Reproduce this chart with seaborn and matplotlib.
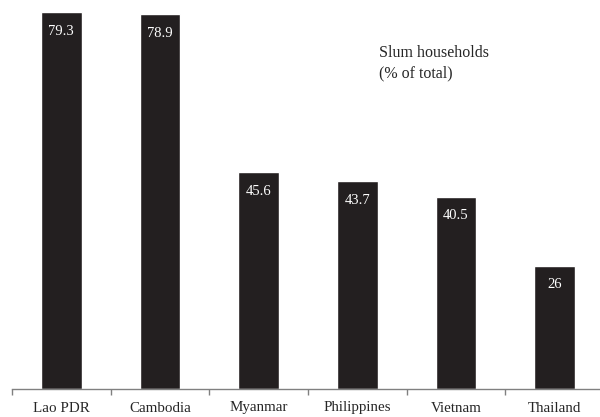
import matplotlib
matplotlib.use("Agg")
import matplotlib.pyplot as plt
import seaborn as sns
import pandas as pd

countries = ["Lao PDR", "Cambodia", "Myanmar", "Philippines", "Vietnam", "Thailand"]
slum_share = [79.3, 78.9, 45.6, 43.7, 40.5, 26]
value_labels = ["79.3", "78.9", "45.6", "43.7", "40.5", "26"]

sns.set_style("white")
plt.rcParams["font.family"] = ["Liberation Serif", "DejaVu Serif"]

df = pd.DataFrame({"country": countries, "share": slum_share})

fig = plt.figure(figsize=(6, 4.17), dpi=100)
ax = fig.add_axes([12 / 600, 28 / 417, 592 / 600, 389 / 417])

sns.barplot(data=df, x="country", y="share", color="#231f20", saturation=1,
            width=0.41, ax=ax)

for i, (v, lab) in enumerate(zip(slum_share, value_labels)):
    ax.annotate(lab, (i, v), xytext=(0, -19), textcoords="offset pixels",
                ha="center", va="center", color="white", fontsize=10.5)

ax.set_xlim(-0.5, 5.5)
ax.set_ylim(0, 81.9)
ax.set_xlabel("")
ax.set_ylabel("")
ax.set_yticks([])

# ticks sit between categories, labels under the bars
ax.set_xticks([i - 0.5 for i in range(len(countries))], minor=False)
ax.set_xticklabels([])
ax.set_xticks(range(len(countries)), minor=True)
ax.set_xticklabels(countries, minor=True, fontsize=10.8)
ax.tick_params(axis="x", which="minor", length=0, pad=9)
ax.tick_params(axis="x", which="major", length=4, width=1, color="#808080",
               direction="out", bottom=True)

for side in ["top", "right", "left"]:
    ax.spines[side].set_visible(False)
ax.spines["bottom"].set_color("#808080")
ax.spines["bottom"].set_linewidth(1)

fig.text(379 / 600, 1 - 53 / 417, "Slum households", fontsize=11.5,
         ha="left", va="center")
fig.text(379 / 600, 1 - 73 / 417, "(% of total)", fontsize=11.5,
         ha="left", va="center")

fig.savefig("out.png", dpi=100)
